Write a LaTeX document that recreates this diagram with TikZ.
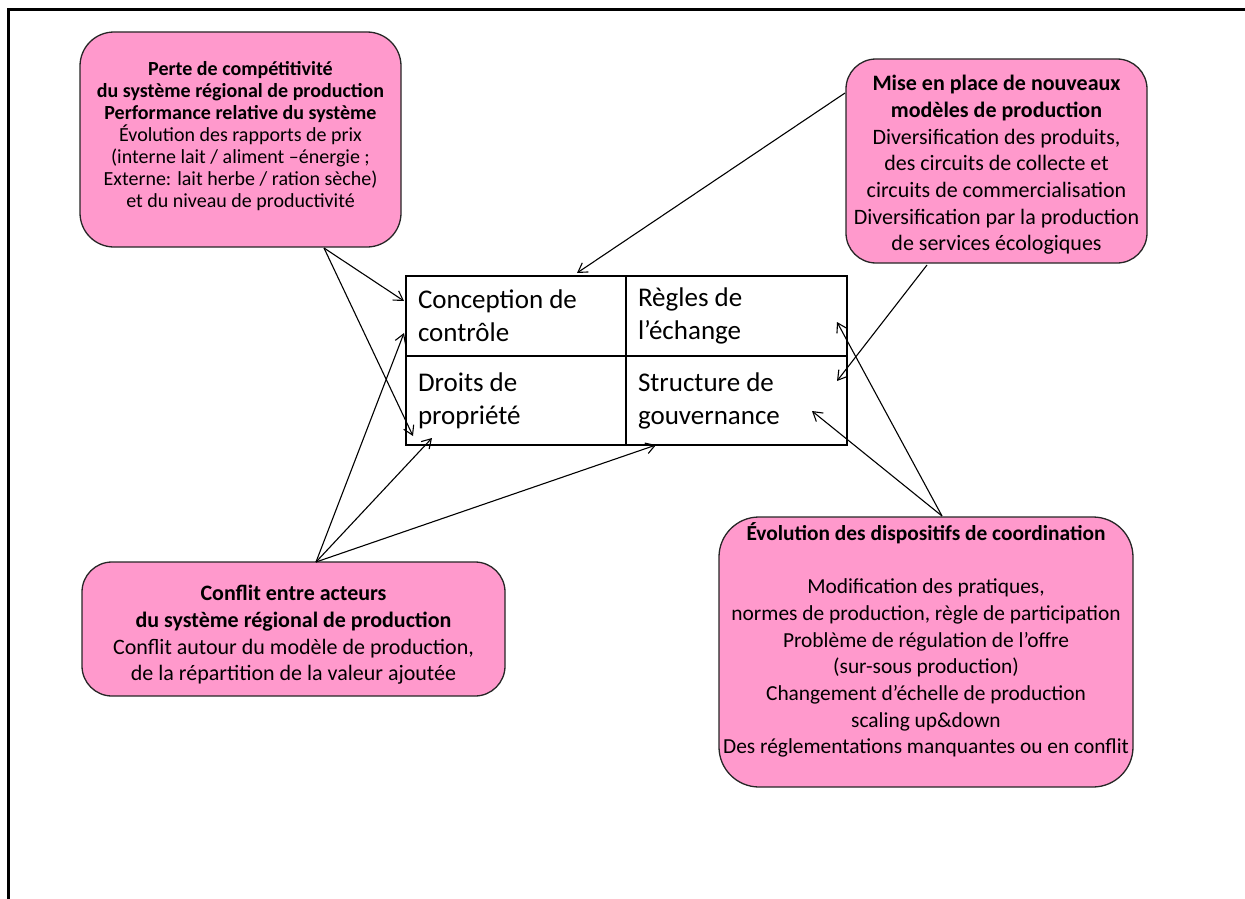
\documentclass[tikz,border=0pt]{standalone}
\usepackage{fontspec}
\setmainfont{Carlito}
\usetikzlibrary{arrows.meta}
\definecolor{boxpink}{HTML}{FF99CC}
\begin{document}
\begin{tikzpicture}[x=1pt,y=-1pt,
  pinkbox/.style={draw=black!85, line width=1.3pt, fill=boxpink, rounded corners=34pt, inner sep=0pt},
  boxtext/.style={align=center, inner sep=0pt},
  cell/.style={draw=black, line width=2pt, align=flush left, anchor=north west, inner xsep=12pt, inner ysep=0pt,
     font=\fontsize{27}{33}\selectfont},
  arr/.style={line width=1.1pt, -{Straight Barb[length=9pt,width=11pt,line width=1.1pt]}}
]
\useasboundingbox (0,0) rectangle (1245,899);
% partial frame
\draw[line width=3pt] (8.5,899) -- (8.5,9.5) -- (1245,9.5);

% pink boxes
\node[pinkbox, minimum width=321pt, minimum height=215pt] (b1) at (240.5,139.5) {};
\node[boxtext, font=\fontsize{20}{22}\selectfont] (b1t) at (240.5,136.5)
 {\textbf{Perte de compétitivité}\\ \textbf{du système régional de production}\\ \textbf{Performance relative du système}\\
  Évolution des rapports de prix\\ (interne lait / aliment –énergie ;\\ Externe: lait herbe / ration sèche)\\ et du niveau de productivité};

\node[pinkbox, rounded corners=30pt, minimum width=301pt, minimum height=204pt] (b2) at (996.5,161) {};
\node[boxtext, font=\fontsize{22}{26.7}\selectfont] (b2t) at (996.5,165)
 {\textbf{Mise en place de nouveaux}\\ \textbf{modèles de production}\\ Diversification des produits,\\ des circuits de collecte et\\
  circuits de commercialisation\\ Diversification par la production\\ de services écologiques};

\node[pinkbox, rounded corners=30pt, minimum width=423pt, minimum height=134pt] (b3) at (293.5,629) {};
\node[boxtext, font=\fontsize{22}{26.7}\selectfont] (b3t) at (293.5,635)
 {\textbf{Conflit entre acteurs}\\ \textbf{du système régional de production}\\ Conflit autour du modèle de production,\\ de la répartition de la valeur ajoutée};

\node[pinkbox, rounded corners=40pt, minimum width=414pt, minimum height=270pt] (b4) at (926,652) {};
\node[boxtext, font=\fontsize{21.4}{26.7}\selectfont] (b4t) at (926,640)
 {\textbf{Évolution des dispositifs de coordination}\\ \mbox{}\\ Modification des pratiques,\\ normes de production, règle de participation\\
  Problème de régulation de l’offre\\ (sur-sous production)\\ Changement d’échelle de production\\ scaling up\&down\\
  Des réglementations manquantes ou en conflit};

% central table
\node[cell, minimum width=220pt, minimum height=80pt, text width=196pt] (c1) at (405,275) {Conception de\\ contrôle};
\node[cell, minimum width=221pt, minimum height=80pt, text width=197pt] (c2) at (625,275) {Règles de\\ l’échange};
\node[cell, minimum width=220pt, minimum height=89pt, text width=196pt] (c3) at (405,355) {Droits de\\ propriété};
\node[cell, minimum width=221pt, minimum height=89pt, text width=197pt] (c4) at (625,355) {Structure de\\ gouvernance};

% connector end points
\coordinate (o1) at (324,248);
\coordinate (t1a) at (404,301);
\coordinate (t1b) at (413,436);
\coordinate (o3) at (316,562);
\coordinate (t3a) at (404,333);
\coordinate (t3b) at (432,438);
\coordinate (t3c) at (656,445);
\coordinate (o2a) at (845,93);
\coordinate (t2a) at (577,273);
\coordinate (o2b) at (927,265);
\coordinate (t2b) at (837,381);
\coordinate (o4) at (942,516);
\coordinate (t4a) at (837,322);
\coordinate (t4b) at (812,411);

\draw[arr] (o1) -- (t1a);
\draw[arr] (o1) -- (t1b);
\draw[arr] (o3) -- (t3a);
\draw[arr] (o3) -- (t3b);
\draw[arr] (o3) -- (t3c);
\draw[arr] (o2a) -- (t2a);
\draw[arr] (o2b) -- (t2b);
\draw[arr] (o4) -- (t4a);
\draw[arr] (o4) -- (t4b);
\end{tikzpicture}
\end{document}
